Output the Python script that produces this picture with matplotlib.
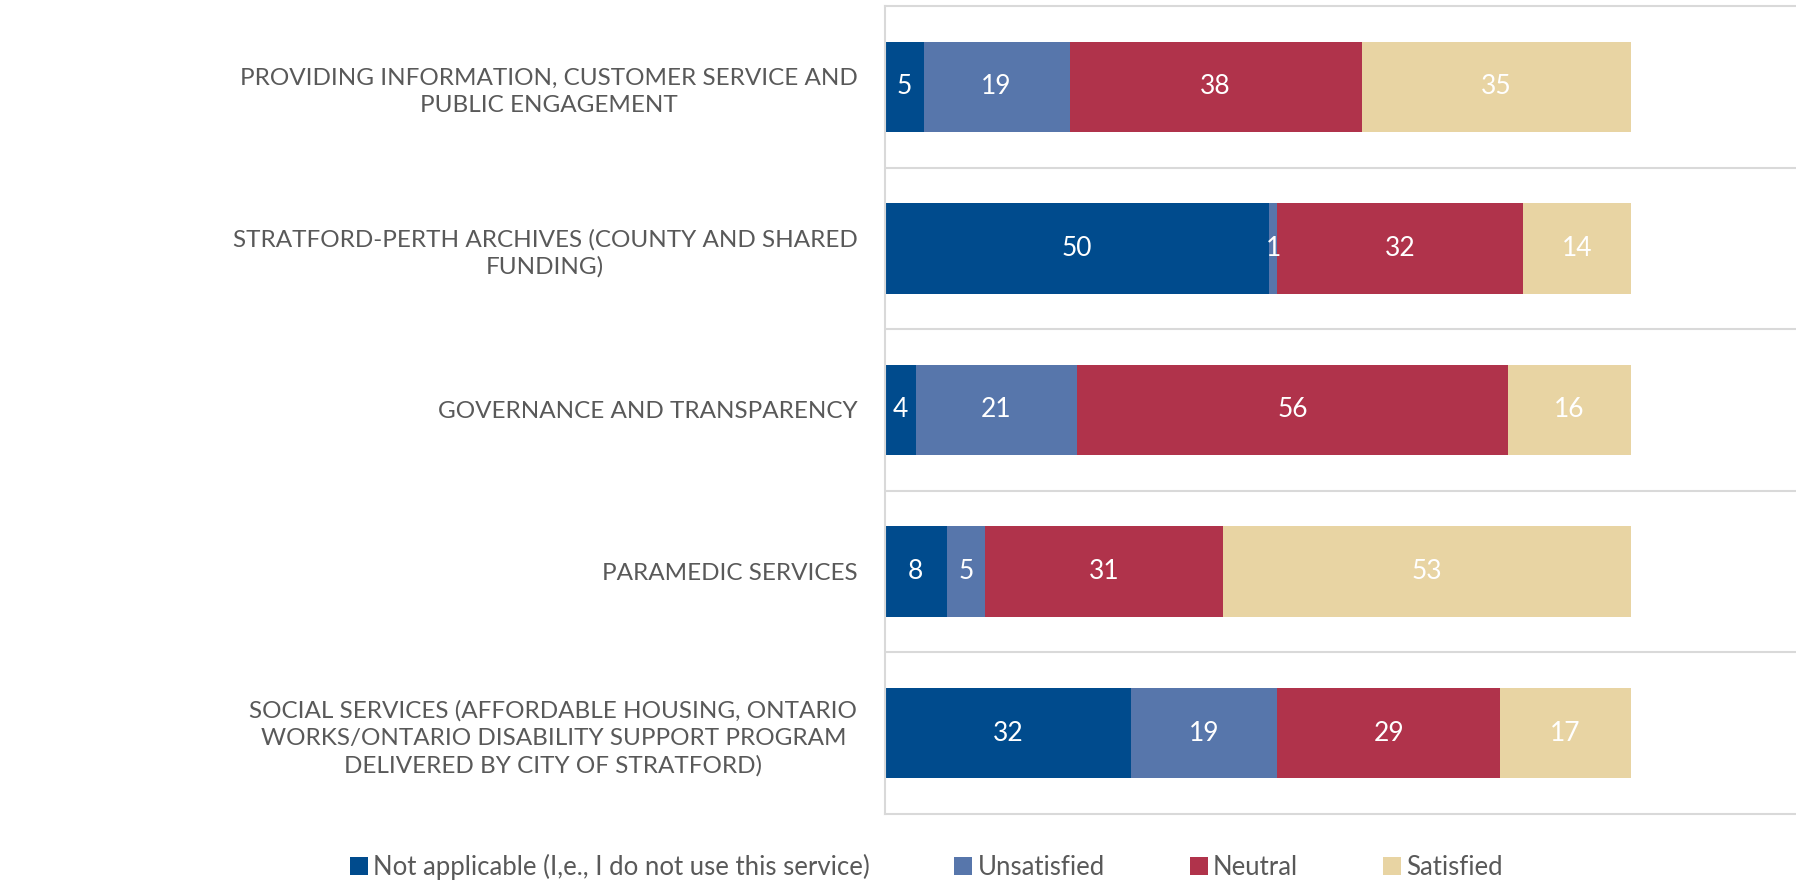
import numpy as np
import matplotlib.pyplot as plt

categories = [
    "PROVIDING INFORMATION, CUSTOMER SERVICE AND\nPUBLIC ENGAGEMENT",
    "STRATFORD-PERTH ARCHIVES (COUNTY AND SHARED\nFUNDING)",
    "GOVERNANCE AND TRANSPARENCY",
    "PARAMEDIC SERVICES",
    "SOCIAL SERVICES (AFFORDABLE HOUSING, ONTARIO\nWORKS/ONTARIO DISABILITY SUPPORT PROGRAM\nDELIVERED BY CITY OF STRATFORD)",
]
series_names = ["Not applicable (I,e., I do not use this service)", "Unsatisfied", "Neutral", "Satisfied"]
not_applicable = [5, 50, 4, 8, 32]
unsatisfied = [19, 1, 21, 5, 19]
neutral = [38, 32, 56, 31, 29]
satisfied = [35, 14, 16, 53, 17]
colors = ["#004B8D", "#5776AB", "#B0334B", "#E8D4A3"]

plt.rcParams["font.family"] = ["Lato", "DejaVu Sans"]
TEXT_GREY = "#595959"
GRID_GREY = "#D9D9D9"

fig = plt.figure(figsize=(17.96, 8.84), dpi=100)
ax = fig.add_axes([0.4928, 0.0792, 0.5072, 0.914])

y = np.arange(len(categories))
left = np.zeros(len(categories))
for name, vals, col in zip(series_names, [not_applicable, unsatisfied, neutral, satisfied], colors):
    vals = np.array(vals, dtype=float)
    bars = ax.barh(y, vals, left=left, height=0.56, color=col, label=name)
    for rect, v in zip(bars, vals):
        ax.text(rect.get_x() + rect.get_width() / 2, rect.get_y() + rect.get_height() / 2,
                f"{int(v)}", ha="center", va="center", color="white", fontsize=19)
    left += vals

ax.set_xlim(0, 118.5)
ax.set_ylim(len(categories) - 0.5, -0.5)
ax.set_xticks([])
ax.set_yticks(y)
ax.set_yticklabels(categories, fontsize=17.5, color=TEXT_GREY, multialignment="center",
                   linespacing=1.35)
ax.tick_params(axis="y", length=0, pad=20)
ax.set_yticks(np.arange(0.5, len(categories) - 0.5), minor=True)
ax.tick_params(axis="y", which="minor", length=0)
ax.grid(True, axis="y", which="minor", color=GRID_GREY, linewidth=1.5)
ax.set_axisbelow(True)

for side in ["top", "bottom", "left"]:
    ax.spines[side].set_color(GRID_GREY)
    ax.spines[side].set_linewidth(1.5)
ax.spines["right"].set_visible(False)

fig.legend(loc="center", bbox_to_anchor=(0.5156, 0.019), ncol=4, frameon=False,
           fontsize=18.5, labelcolor=TEXT_GREY, handlelength=0.7, handleheight=0.7,
           handletextpad=0.2, columnspacing=3.3)

fig.savefig("out.png", dpi=100)
